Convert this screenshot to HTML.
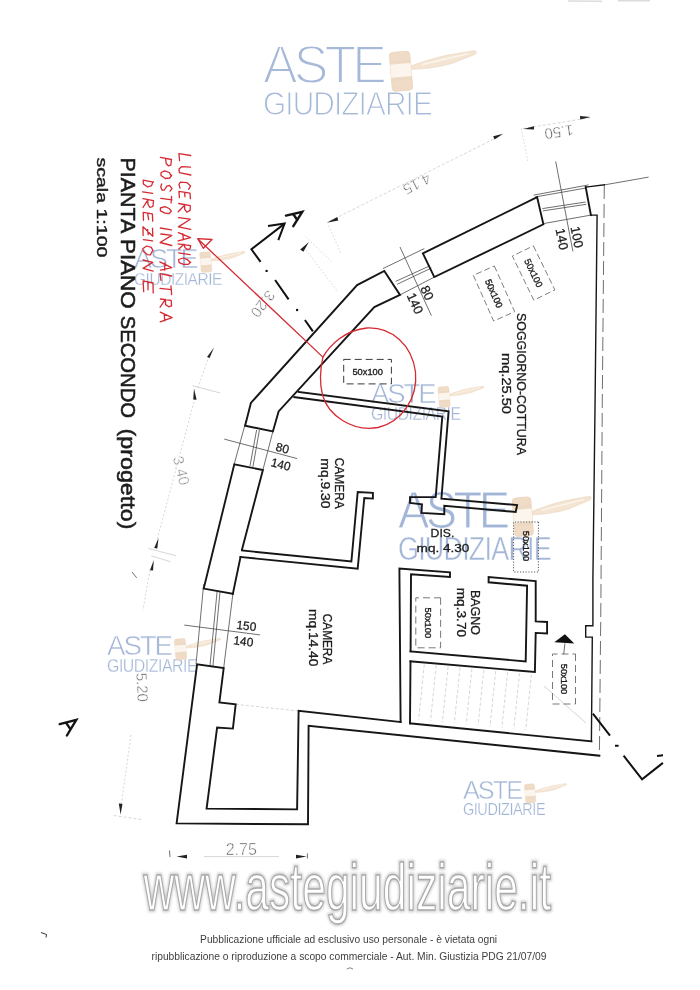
<!DOCTYPE html>
<html><head><meta charset="utf-8"><title>Pianta piano secondo</title>
<style>
html,body{margin:0;padding:0;background:#fff;}
body{width:700px;height:990px;overflow:hidden;}
svg{display:block;opacity:0.999;}
text{font-family:"Liberation Sans",sans-serif;}
.w{fill:none;stroke:#161616;stroke-width:1.9;stroke-linejoin:miter;stroke-linecap:square;}
.t{fill:none;stroke:#4a4a4a;stroke-width:0.8;}
.g{fill:none;stroke:#9a9a9a;stroke-width:0.7;}
.l{fill:none;stroke:#c4c4c4;stroke-width:0.7;}
.r{fill:none;stroke:#d62a33;stroke-width:1.3;stroke-linecap:round;stroke-linejoin:round;}
.lab{fill:#1c1c1c;}
.dim{fill:#8a8a8a;}
</style></head><body>
<svg width="700" height="990" viewBox="0 0 700 990">
<defs>
<filter id="bl" x="-5%" y="-20%" width="110%" height="140%"><feGaussianBlur stdDeviation="0.9"/></filter>
<g id="logo">
  <text x="0" y="37.8" font-size="52.8" letter-spacing="-4" textLength="120" lengthAdjust="spacingAndGlyphs" fill="#a6b9d9" stroke="#fff" stroke-width="1.9">ASTE</text>
  <text x="0" y="70" font-size="33.5" letter-spacing="-1" textLength="169" lengthAdjust="spacingAndGlyphs" fill="#a6b9d9" stroke="#fff" stroke-width="1.1">GIUDIZIARIE</text>
  <g id="gavel">
    <path d="M148.4 20.9 C160 17 175 12 185.6 10.2 L211.3 5.9 Q215.2 6.8 212 9.5 L188.4 18.8 C175 22.5 160 24.2 149.1 24.5 Z" fill="#f4e4d2" stroke="#ecd6bf" stroke-width="0.7"/>
    <path d="M160 19.6 L205 9" stroke="#fbf4ec" stroke-width="1.6" fill="none" stroke-linecap="round"/>
    <g transform="rotate(-5 138 26)">
      <rect x="127.7" y="7" width="20.5" height="39" rx="3.5" fill="#f0dcc6" stroke="#e8d1b9" stroke-width="0.7"/>
      <rect x="127.7" y="19" width="20.5" height="13" fill="#fbf5ed"/>
      <rect x="128" y="15.5" width="20" height="2.6" fill="#ecd9c3"/>
      <rect x="128" y="33" width="20" height="2.6" fill="#ecd9c3"/>
    </g>
  </g>
</g>
<g id="logoB">
  <text x="0" y="37.8" font-size="52.8" letter-spacing="-4" textLength="120" lengthAdjust="spacingAndGlyphs" fill="#a3b6d7" stroke="#fff" stroke-width="1.1">ASTE</text>
  <text x="0" y="70" font-size="33.5" letter-spacing="-1" textLength="169" lengthAdjust="spacingAndGlyphs" fill="#a3b6d7" stroke="#fff" stroke-width="0.5">GIUDIZIARIE</text>
  <use href="#gavel"/>
</g>
</defs>
<rect width="700" height="990" fill="#fff"/>

<!-- WATERMARKS -->
<g id="wm">
<use href="#logo" transform="translate(263 44.8)"/>
<use href="#logoB" transform="translate(134 248.3) scale(0.52)"/>
<use href="#logoB" transform="translate(371 382.9) scale(0.53)"/>
<use href="#logoB" transform="translate(398 490.5) scale(0.905 0.99)"/>
<use href="#logoB" transform="translate(107 635) scale(0.533)"/>
<use href="#logoB" transform="translate(462.9 780.6) scale(0.487)"/>
</g>

<g id="plan">
<!-- thin / light elements first -->
<g id="light">
  <!-- dimension lines (light grey, faint scan) -->
  <path class="l" stroke-dasharray="3 2" d="M330 221 L500 136"/>
  <path class="l" stroke-dasharray="3 2" d="M523 128.6 L590 117.7"/>
  <path class="l" stroke="#dcdcdc" stroke-dasharray="1.5 2" d="M521.4 128.6 L528 162"/>
  <path class="l" stroke="#dcdcdc" stroke-dasharray="1.5 2" d="M328.6 225.7 L341.4 254.3"/>
  <path class="l" stroke="#dcdcdc" stroke-dasharray="1.5 2" d="M305.7 237 L333 263"/>
  <path class="l" stroke="#dcdcdc" stroke-dasharray="1.5 2" d="M306 250 L338 292"/>
  <path class="l" stroke="#d8d8d8" stroke-dasharray="2 2" d="M209 356 L197 390"/>
  <path class="l" stroke="#d8d8d8" stroke-dasharray="2 2" d="M195 398 L157 540"/>
  <path class="l" stroke="#d8d8d8" stroke-dasharray="2 2" d="M150 570 L143 610"/>
  <path class="l" d="M192.4 385.7 L220.2 393 M148.4 548.5 L176.2 555.8 M151.3 555.8 L170.4 561.7"/>
  <path class="t" d="M132 572 L136.7 577.8"/>
  <path class="l" stroke="#d2d2d2" stroke-dasharray="2 2" d="M131 735 L121.5 803"/>
  <path class="l" stroke-dasharray="3 2" d="M113.7 815.5 L143 819.8"/>
  <path class="l" d="M204 856.6 L279 856.6"/>
  <!-- stairs -->
  <g class="l" stroke="#cdcdcd" stroke-dasharray="3.5 2">
    <path d="M424.3 664.3 L418.6 719.8"/><path d="M436.2 665.4 L430.5 720.9"/><path d="M448.1 666.5 L442.4 722.0"/><path d="M460.0 667.6 L454.3 723.1"/><path d="M471.9 668.7 L466.2 724.2"/><path d="M483.8 669.8 L478.1 725.3"/><path d="M495.7 671.0 L490.0 726.5"/><path d="M507.6 672.1 L501.9 727.6"/><path d="M519.5 673.2 L513.8 728.7"/><path d="M531.4 674.3 L525.7 729.8"/>
  </g>
  <path class="l" d="M544 686 L586 723"/>
  <path class="l" stroke-dasharray="3 2" d="M236 704.3 L298 710.9"/>
</g>

<!-- dashed outer line on right side -->
<path class="t" stroke-dasharray="14 5" d="M604.3 185 L602.3 400 L600.9 600 L599.4 755.7"/>
<path class="t" d="M604.3 184.9 L648.6 177.1"/>

<!-- windows: thin lines -->
<g class="t">
  <!-- upper-left window 80/140 -->
  <path d="M382.9 268.6 L424.3 248.6 M395.7 281.4 L430 265.7 M397.1 284.3 L431.4 268 M400 294.9 L434.3 277.1"/>
  <path d="M400 247 L431.4 315.7"/>
  <!-- upper-right window 100/140 -->
  <path d="M533.7 195.1 L588.6 184.9 M535 197 L586 188 M542.3 208.6 L585.7 202 M542.9 210.9 L586.3 204.3 M542.9 223.7 L590.9 215.1"/>
  <path d="M555.7 161.4 L572.9 251.4"/>
  <!-- left window 80/140 -->
  <path d="M246.3 420 L233.7 466 M256.6 430 L250 466 M259.4 430 L252.9 467 M272.9 431.4 L262.9 470"/>
  <path d="M224.3 439.1 L297.1 458.6"/>
  <!-- left window 150/140 -->
  <path d="M203.7 584.3 L196 664.3 M217.1 591.4 L210 665.7 M220 592 L212.9 666.3 M232.9 593.7 L223.7 668"/>
  <path d="M184.3 625.1 L260 634.9"/>
</g>

<!-- WALLS -->
<g class="w">
  <!-- upper-left diagonal wall -->
  <path d="M245.1 425.7 L250.9 402.9 L357.1 285.1 L384.3 270.9 L400 294.9 L374.3 307.1 L278.6 411.4 L272.9 431.4 Z"/>
  <!-- upper wall segment 2 -->
  <path d="M422.9 253.4 L537.1 197.1 L543.4 224.3 L434.3 277.1 Z"/>
  <!-- right top corner + right wall -->
  <path d="M585.7 187.1 L590.9 215.1"/>
  <path stroke-width="1.4" d="M604.3 184.9 L585.7 187.1 M590.9 215.1 L597.1 215.1 L595.1 400 L592.9 580 L592.9 625.7 L585.7 625.7 L585.7 637.1 L592.3 637.1 L591.4 741.4"/>
  <!-- bottom walls -->
  <path d="M591.4 741.4 L410 723.4"/>
  <path d="M599.4 755.7 L308.6 725.7 L308 824.3 L176.6 823.4 L197.1 664.3 L223.7 668 L219.4 702.5 L235.7 704.3 L232.9 728.6 L217.1 727.6 L206.6 808.6 L297.1 809.4 L298.6 710.9 L400.6 722"/>
  <!-- left wall piece between windows -->
  <path d="M232.9 593.7 L203.7 588.6 L234.3 464.3 L262.9 470 L242 549.5"/>
  <path d="M240.5 557 L232.9 593.7"/>
  <!-- camera 9.30 / 14.40 partition -->
  <path d="M242 550.5 L351.4 561.4 L357.7 492 L372.9 492.9 L372.9 498.6 L364.3 498 L357.7 568.6 L240.5 557"/>
  <!-- camera 9.30 top wall + right wall -->
  <path d="M298.6 392 L448.6 411.4 L441.4 498.6 L517.1 505.1 L515.7 512 L444.3 505.7 L444.3 514.3 L421.4 512.9 L422 504.3 L410 502.9 L410 497.1 L435.7 497.1 L442.3 416.6 L294.3 397.1"/>
  <!-- bagno -->
  <path d="M400.6 722 L399.4 568.6 L450 572.4 L450 577 L411 574.3 L410.6 651.4 M410.5 661.4 L410 723.4"/>
  <path d="M410.6 651.4 L525.7 661.4 L527.1 585.7 L488.6 582.3 L488.6 577.1 L535.7 581 L535.7 621.4 L547.1 622 L547.1 633.4 L535.7 632.9 L534.9 672 L410.5 661.4"/>
</g>

<!-- section marks -->
<g fill="none" stroke="#111" stroke-width="2" stroke-linecap="butt">
  <path d="M284.6 223.6 L251.4 249.3 L260.6 261.9"/>
  <path d="M268 226.1 L284.6 223.6 L278.3 240.1"/>
  <path d="M275.1 280 L288.6 299.4 M304.9 320 L312.9 331.4"/>
  <path d="M592.9 713.6 L610 735.7 M623.6 755.7 L642.1 779.3 L662.9 762.9"/>
  <path d="M657 755.9 L663 755.2 M615 745.7 L618.6 745.7"/>
</g>
<circle cx="266.6" cy="270.9" r="1.2" fill="#111"/><circle cx="297.1" cy="310" r="1.2" fill="#111"/>

<g fill="none" stroke="#141414" stroke-width="2.4" stroke-linecap="round" stroke-linejoin="miter">
  <path d="M285.9 215.6 L302.3 211.9 L293.3 226.2 M293.2 214 L297.3 220"/>
  <path d="M59.7 724.1 L76.3 719.9 L66.9 735.5 M66 722.7 L70.2 728.9"/>
</g>
<!-- arrow near lower-right -->
<path d="M554.3 642.3 L574.3 643.4 L564.9 634.3 Z" fill="#111"/>
<path class="t" d="M564.9 643.4 L563.7 654.3"/>

<!-- dimension arrowheads -->
<g fill="#222">
  <path d="M523.4 129.1 L534 126.2 L534 129.6 Z"/>
  <path d="M590.6 117.1 L580 116.1 L580.2 119.5 Z"/>
  <path d="M503.2 133.7 L493.2 136.2 L494.6 139.4 Z"/>
  <path d="M326.8 222.8 L337.3 216.9 L338.3 220.6 Z"/>
  <path d="M308.9 242 L300.2 249.4 L303.4 251.7 Z"/>
  <path d="M214 347.5 L207 357 L209.6 358 Z"/>
  <path d="M194 388.5 L193.2 399.5 L196.6 399.8 Z"/>
  <path d="M158.5 538 L154.2 548 L157.3 548.6 Z"/>
  <path d="M153.8 560 L150 570.3 L153 570.6 Z"/>
  <path d="M120.6 814.6 L118.8 803.5 L122.5 803.7 Z"/>
  <path d="M176.5 856.6 L187 854.8 L187 858.4 Z"/>
  <path d="M306.6 856.6 L296 854.8 L296 858.4 Z"/>
</g>
</g>
<!-- TEXT -->
<g id="labels">
  <g class="lab" font-size="20.6" stroke="#1c1c1c" stroke-width="0.55" transform="translate(120.8 0) rotate(90)">
    <text x="157.4" y="0" textLength="76" lengthAdjust="spacingAndGlyphs">PIANTA</text>
    <text x="239" y="0" textLength="69.7" lengthAdjust="spacingAndGlyphs">PIANO</text>
    <text x="315.8" y="0" textLength="102.2" lengthAdjust="spacingAndGlyphs">SECONDO</text>
    <text x="428.6" y="0" textLength="100.8" lengthAdjust="spacingAndGlyphs">(progetto)</text>
  </g>
  <text class="lab" font-size="15" transform="translate(97 157.4) rotate(90)" textLength="100" lengthAdjust="spacingAndGlyphs" stroke="#1c1c1c" stroke-width="0.4">scala 1:100</text>

  <g class="lab" stroke="#1c1c1c" stroke-width="0.3">
  <text font-size="12.7" transform="translate(517.3 313) rotate(90)" textLength="142" lengthAdjust="spacingAndGlyphs">SOGGIORNO-COTTURA</text>
  <text font-size="12.3" transform="translate(502.3 353) rotate(90)" textLength="61" lengthAdjust="spacingAndGlyphs">mq.25.50</text>
  <text font-size="12.7" transform="translate(334.9 457.7) rotate(90)" textLength="51" lengthAdjust="spacingAndGlyphs">CAMERA</text>
  <text font-size="12.3" transform="translate(320.6 458.3) rotate(90)" textLength="50.3" lengthAdjust="spacingAndGlyphs">mq.9.30</text>
  <text font-size="12.7" transform="translate(323 613.7) rotate(90)" textLength="50.6" lengthAdjust="spacingAndGlyphs">CAMERA</text>
  <text font-size="12.3" transform="translate(308.6 609) rotate(90)" textLength="57.3" lengthAdjust="spacingAndGlyphs">mq.14.40</text>
  <text font-size="12.7" transform="translate(471 590) rotate(90)" textLength="45" lengthAdjust="spacingAndGlyphs">BAGNO</text>
  <text font-size="12.3" transform="translate(456.6 587.7) rotate(90)" textLength="49.4" lengthAdjust="spacingAndGlyphs">mq.3.70</text>
  <text font-size="11.8" x="430.6" y="537.1" textLength="23.7" lengthAdjust="spacingAndGlyphs">DIS.</text>
  <text font-size="11.8" x="416.6" y="552.3" textLength="52.8" lengthAdjust="spacingAndGlyphs">mq. 4.30</text>
  </g>

  <!-- window sizes -->
  <g font-size="12" class="lab" text-anchor="middle" stroke="#1c1c1c" stroke-width="0.25">
    <text transform="translate(282.6 448) rotate(14)" y="4.3">80</text>
    <text transform="translate(280.9 464.3) rotate(14)" y="4.3">140</text>
    <text transform="translate(246.4 625.6) rotate(7)" y="4.3">150</text>
    <text transform="translate(243.4 641.1) rotate(7)" y="4.3">140</text>
    <text transform="translate(427.1 292.9) rotate(65)" y="4.5" font-size="13">80</text>
    <text transform="translate(415.1 303.4) rotate(65)" y="4.5" font-size="13">140</text>
    <text transform="translate(577 237) rotate(79)" y="4.5" font-size="13">100</text>
    <text transform="translate(562 239) rotate(79)" y="4.5" font-size="13">140</text>
  </g>

  <!-- dimension texts (light) -->
  <g font-size="15" class="dim" text-anchor="middle" stroke="#fff" stroke-width="0.5">
    <text transform="translate(559 132) rotate(171)" y="5.3" fill="#484848">1.50</text>
    <text transform="translate(417 184) rotate(153)" y="5.3" fill="#5e5e5e">4.15</text>
    <text transform="translate(263 304) rotate(128)" y="5.3" fill="#5a5a5a">3.20</text>
    <text transform="translate(181.4 470.7) rotate(76)" y="5.3" fill="#6a6a6a">3.40</text>
    <text transform="translate(142.3 687.3) rotate(87)" y="5.3" fill="#4c4c4c">5.20</text>
    <text x="241.3" y="855.3" fill="#5a5a5a" font-size="16">2.75</text>
  </g>
</g>
<path d="M41 932.5 L46.5 934.5 L46 937.5" fill="none" stroke="#333" stroke-width="1"/>
<path class="t" d="M169.5 850.5 L170 857 M307.4 853.4 L307.4 858.5"/>

<!-- skylights 50x100 -->
<g id="sky" font-size="9.3" text-anchor="middle" class="lab" stroke="#1c1c1c" stroke-width="0.35">
  <rect x="343.7" y="359.4" width="47.7" height="24.5" fill="none" stroke="#222" stroke-width="0.9" stroke-dasharray="7 4"/>
  <text x="367.7" y="374.8">50x100</text>
  <g transform="translate(494 293.5) rotate(66)">
    <rect x="-25" y="-11.5" width="50" height="23" fill="none" stroke="#6e6e6e" stroke-width="0.8" stroke-dasharray="6 3"/>
    <text y="3.3">50x100</text>
  </g>
  <g transform="translate(533.6 273) rotate(64)">
    <rect x="-24.5" y="-11.7" width="49" height="23.4" fill="none" stroke="#6e6e6e" stroke-width="0.8" stroke-dasharray="6 3"/>
    <text y="3.3">50x100</text>
  </g>
  <g transform="translate(526 547) rotate(90)">
    <rect x="-25" y="-12.4" width="50" height="24.8" fill="none" stroke="#333" stroke-width="0.8" stroke-dasharray="1.2 1.6"/>
    <text y="3.3" x="-1">50x100</text>
  </g>
  <g transform="translate(428.2 622.8) rotate(90)">
    <rect x="-25" y="-12.4" width="50" height="24.8" fill="none" stroke="#606060" stroke-width="0.85" stroke-dasharray="7 4"/>
    <text y="3.3">50x100</text>
  </g>
  <g transform="translate(564 679) rotate(90)">
    <rect x="-25" y="-11.5" width="50" height="23" fill="none" stroke="#606060" stroke-width="0.85" stroke-dasharray="7 4"/>
    <text y="3.3">50x100</text>
  </g>
</g>

<!-- RED ANNOTATIONS -->
<g id="red">
  <path class="r" d="M322.9 357.1 L199 240 M197.7 238.6 L212 239.5 L203.3 248.3 Z"/>
  <path class="r" stroke="#da4a58" stroke-width="0.9" d="M322.9 357.1 C330 345 345 330 367 328 C392 327 412 345 415.5 372 C418 398 402 422 378 427.5 C352 432 328 415 322.5 395 C320 385 320 370 322.9 357.1"/>
<path class="r" stroke-width="1.3" transform="translate(178.5 153.0) rotate(90)" d="M2.5 -12.3 L0.6 -0.4 L7.7 -1.1 M14.2 -12.0 L13.7 -3.1 L15.9 -0.4 L19.6 -0.9 L22.0 -12.3 M36.3 -10.1 L32.9 -12.1 L29.6 -8.3 L29.1 -2.0 L31.3 -0.4 L35.1 -1.5 M45.7 -11.9 L40.1 -11.5 L38.3 -0.4 L44.5 -0.9 M39.4 -6.1 L43.8 -6.5 M50.5 -0.2 L52.7 -11.8 L57.4 -11.6 L59.2 -8.3 L56.4 -6.2 L52.3 -6.1 L58.7 0.3 M64.6 -0.0 L66.2 -11.8 L73.9 0.1 L76.3 -12.2 M79.6 0.1 L84.7 -12.0 L87.9 0.4 M81.0 -4.4 L86.8 -4.8 M90.8 0.5 L92.6 -12.2 L95.8 -11.5 L96.4 -8.7 L94.4 -6.4 L91.2 -5.5 L96.0 -0.3 M101.6 -11.6 L99.9 -0.1 M109.2 -11.6 L106.8 -9.2 L105.0 -4.9 L106.5 0.0 L109.6 -0.7 L111.4 -5.1 L111.4 -9.6 L109.3 -12.2"/>
<path class="r" stroke-width="1.3" transform="translate(160.3 157.0) rotate(90)" d="M0.4 -0.1 L2.5 -11.2 L8.1 -10.5 L8.8 -8.0 L6.5 -5.9 L2.3 -5.4 M19.1 -11.0 L15.5 -9.1 L13.9 -4.4 L15.5 -0.8 L18.5 -0.7 L21.5 -5.0 L21.0 -9.4 L18.3 -11.4 M34.1 -9.8 L31.6 -11.7 L28.3 -9.2 L29.2 -6.6 L33.0 -4.0 L33.1 -1.7 L29.8 -0.4 L27.0 -1.4 M39.4 -11.3 L45.9 -10.8 M42.8 -11.7 L41.4 -0.5 M53.9 -10.8 L51.5 -8.8 L49.7 -4.7 L51.0 -0.1 L53.8 -0.1 L56.2 -4.8 L56.7 -8.6 L54.3 -11.0 M72.9 -11.1 L71.0 0.0 M77.0 -0.5 L78.4 -11.5 L85.5 0.2 L88.5 -11.4 M104.9 0.5 L110.7 -11.4 L113.2 -0.3 M106.0 -4.6 L113.2 -4.3 M119.0 -11.3 L116.6 0.3 L123.3 -0.7 M129.0 -10.7 L137.5 -11.3 M132.6 -11.0 L131.4 0.3 M142.0 -0.1 L143.3 -10.9 L148.9 -11.3 L149.8 -8.5 L147.6 -5.3 L142.4 -5.1 L150.2 0.2 M155.1 0.0 L160.6 -11.8 L164.8 0.1 M157.1 -3.9 L163.8 -4.4"/>
<path class="r" stroke-width="1.3" transform="translate(143.0 179.4) rotate(90)" d="M2.8 -10.3 L0.7 -0.2 L4.6 -0.4 L7.6 -4.6 L6.2 -8.6 L2.2 -10.0 M13.9 -9.6 L12.4 0.4 M19.3 0.0 L21.2 -10.5 L26.9 -10.0 L28.1 -6.9 L25.0 -5.0 L20.8 -4.7 L28.1 0.0 M41.8 -9.7 L34.5 -9.4 L32.9 -0.2 L40.9 -0.5 M34.2 -4.7 L40.0 -5.6 M48.7 -9.5 L56.9 -9.8 L47.4 0.0 L56.1 -0.1 M50.1 -4.6 L55.3 -5.2 M61.4 -9.6 L60.3 -0.4 M71.4 -10.1 L68.0 -8.3 L66.6 -3.8 L69.1 0.1 L71.6 -0.1 L75.3 -4.4 L75.4 -7.5 L71.5 -9.5 M80.6 -0.0 L83.0 -9.7 L89.0 -0.1 L91.7 -10.2 M113.7 -10.2 L103.6 -10.0 L101.4 -0.1 L112.3 -0.7 M102.7 -5.0 L110.4 -5.0"/>
</g>

<path d="M568 1 L602 1.2 M618 0.6 L650 0.6" stroke="#dcdcdc" stroke-width="1.6" fill="none"/>
<!-- BOTTOM BANNER -->
<g id="banner">
  <text x="143.5" y="909.5" font-size="67" textLength="407.5" lengthAdjust="spacingAndGlyphs" fill="none" stroke="#d2d2d2" stroke-width="4.6" filter="url(#bl)">www.astegiudiziarie.it</text>
  <text x="143.5" y="909.5" font-size="67" textLength="407.5" lengthAdjust="spacingAndGlyphs" fill="#fff" stroke="#a9a9a9" stroke-width="1.5" stroke-linejoin="round">www.astegiudiziarie.it</text>
  <text x="348.6" y="943.2" font-size="10.8" text-anchor="middle" fill="#3e3e3e" textLength="297" lengthAdjust="spacingAndGlyphs">Pubblicazione ufficiale ad esclusivo uso personale - è vietata ogni</text>
  <text x="349" y="960" font-size="10.8" text-anchor="middle" fill="#3e3e3e" textLength="395" lengthAdjust="spacingAndGlyphs">ripubblicazione o riproduzione a scopo commerciale - Aut. Min. Giustizia PDG 21/07/09</text>
  <path d="M346.8 969 Q350 966.5 353 969" fill="none" stroke="#777" stroke-width="0.9"/>
</g>

</svg>
</body></html>
